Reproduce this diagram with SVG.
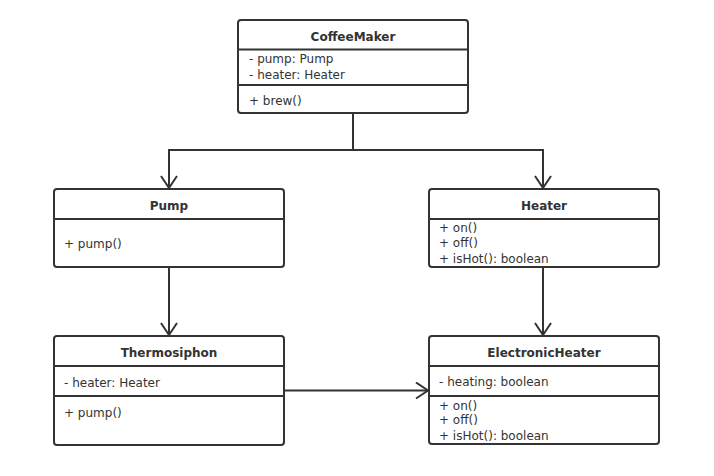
<svg xmlns="http://www.w3.org/2000/svg" width="714" height="476" viewBox="0 0 714 476">
<defs>
<style>
.box{fill:#fff;stroke:#333;stroke-width:2}
.sep{stroke:#333;stroke-width:2}
.t{font-family:"DejaVu Sans","Noto Sans",sans-serif;font-size:12px;fill:#333}
.h{font-family:"DejaVu Sans","Noto Sans",sans-serif;font-size:12px;font-weight:bold;fill:#333;text-anchor:middle}
.c{fill:none;stroke:#333;stroke-width:2}
</style>
<marker id="arr" markerWidth="16" markerHeight="20" refX="13" refY="9" orient="auto" markerUnits="userSpaceOnUse">
<path d="M1,1 L13,9 L1,17" fill="none" stroke="#333" stroke-width="2"/>
</marker>
</defs>
<rect width="714" height="476" fill="#fff"/>
<g id="connectors">
<path class="c" d="M353,113 V150 H169 V188" marker-end="url(#arr)"/>
<path class="c" d="M353,150 H543 V188" marker-end="url(#arr)"/>
<path class="c" d="M169,267 V335" marker-end="url(#arr)"/>
<path class="c" d="M543,267 V335" marker-end="url(#arr)"/>
<path class="c" d="M284,390.5 H428" marker-end="url(#arr)"/>
</g>
<g id="CoffeeMaker">
<rect class="box" x="238" y="20" width="230" height="93" rx="3"/>
<line class="sep" x1="238" y1="49.5" x2="468" y2="49.5"/>
<line class="sep" x1="238" y1="85" x2="468" y2="85"/>
<text class="h" x="353" y="41">CoffeeMaker</text>
<text class="t" x="249" y="63">- pump: Pump</text>
<text class="t" x="249" y="79">- heater: Heater</text>
<text class="t" x="249" y="105">+ brew()</text>
</g>
<g id="Pump">
<rect class="box" x="54" y="189" width="230" height="78" rx="3"/>
<line class="sep" x1="54" y1="219" x2="284" y2="219"/>
<text class="h" x="169" y="210">Pump</text>
<text class="t" x="64" y="248">+ pump()</text>
</g>
<g id="Heater">
<rect class="box" x="429" y="189" width="230" height="78" rx="3"/>
<line class="sep" x1="429" y1="219" x2="659" y2="219"/>
<text class="h" x="544" y="210">Heater</text>
<text class="t" x="439" y="232">+ on()</text>
<text class="t" x="439" y="247">+ off()</text>
<text class="t" x="439" y="263">+ isHot(): boolean</text>
</g>
<g id="Thermosiphon">
<rect class="box" x="54" y="336" width="230" height="109" rx="3"/>
<line class="sep" x1="54" y1="366" x2="284" y2="366"/>
<line class="sep" x1="54" y1="396" x2="284" y2="396"/>
<text class="h" x="169" y="357">Thermosiphon</text>
<text class="t" x="64" y="387">- heater: Heater</text>
<text class="t" x="64" y="417">+ pump()</text>
</g>
<g id="ElectronicHeater">
<rect class="box" x="429" y="336" width="230" height="108" rx="3"/>
<line class="sep" x1="429" y1="366" x2="659" y2="366"/>
<line class="sep" x1="429" y1="396" x2="659" y2="396"/>
<text class="h" x="544" y="357">ElectronicHeater</text>
<text class="t" x="439" y="386">- heating: boolean</text>
<text class="t" x="439" y="409.5">+ on()</text>
<text class="t" x="439" y="424">+ off()</text>
<text class="t" x="439" y="439.5">+ isHot(): boolean</text>
</g>
</svg>
